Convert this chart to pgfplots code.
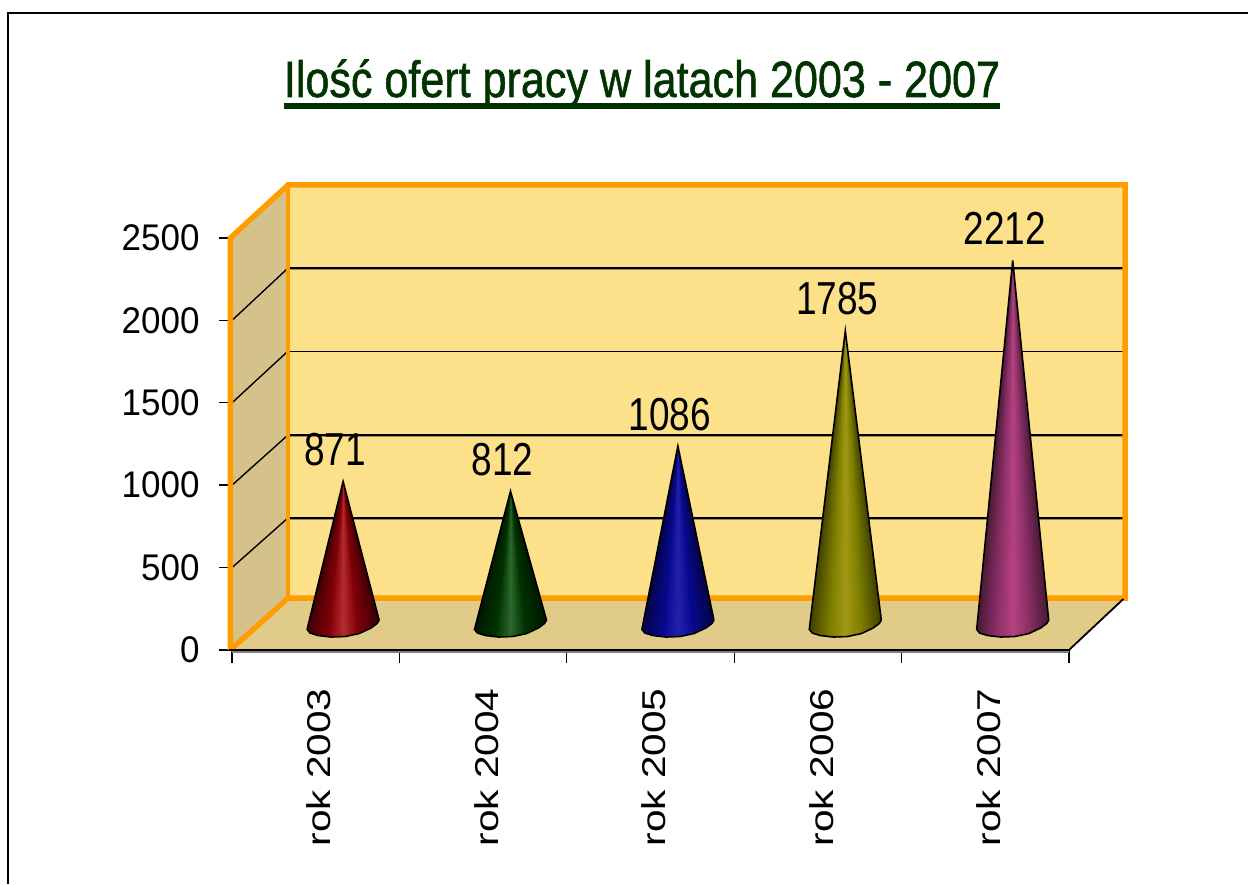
\documentclass[border=0pt]{standalone}
\usepackage{fontspec}
\setmainfont{Liberation Sans}
\newfontfamily\titlefont[FakeBold=1.2]{Liberation Sans}
\usepackage{pgfplots}
\pgfplotsset{compat=1.18}
\usetikzlibrary{shadings}
\definecolor{orangeb}{HTML}{FF9C00}
\definecolor{backw}{HTML}{FDE18A}
\definecolor{sidew}{HTML}{D4C28A}
\definecolor{floorw}{HTML}{E0CB88}
\definecolor{gridsh}{HTML}{9A8A55}
\definecolor{titleg}{HTML}{003300}
% cone shading: colour depends on the angle seen from the apex
% #1 name, #2-4 plateau rgb, #5-7 (bright-plateau) rgb
\newcommand\coneshade[7]{%
\pgfdeclarefunctionalshading{#1}{\pgfpoint{0bp}{0bp}}{\pgfpoint{100bp}{100bp}}{}{%
 exch 50 sub exch 75 exch sub 0.01 add div 1.9 mul abs
 dup 0.4 lt
 { 0.4 exch sub 2.5 mul
   dup #5 mul #2 add exch dup #6 mul #3 add exch #7 mul #4 add }
 { 0.4 sub 0.85 mul 1 exch sub dup 0 lt { pop 0 } if
   dup #2 mul exch dup #3 mul exch #4 mul }
 ifelse
}}
\coneshade{conered}{0.5}{0.0}{0.03}{0.21}{0.17}{0.15}
\coneshade{conegreen}{0.0}{0.2}{0.0}{0.18}{0.21}{0.18}
\coneshade{coneblue}{0.03}{0.03}{0.56}{0.1}{0.1}{0.11}
\coneshade{coneolive}{0.5}{0.5}{0.0}{0.13}{0.1}{0.08}
\coneshade{conemag}{0.56}{0.19}{0.41}{0.15}{0.07}{0.09}
\begin{document}
\begin{tikzpicture}[x=0.5pt,y=0.5pt]
\path[use as bounding box] (0,0) rectangle (1248,884);
% frame of the picture
\draw[black,line width=1pt] (8,0) -- (8,871) -- (1248,871);
% title
\node[font=\titlefont\fontsize{25.5}{28}\selectfont,text=titleg,xscale=0.845,inner sep=0pt,anchor=base] at (642,787) {Ilość ofert pracy w latach 2003 - 2007};
\fill[titleg] (284,775) rectangle (1000,781);
% walls and frame: front plane axis
\begin{axis}[
  at={(116pt,117pt)},anchor=south west,
  scale only axis,width=418.5pt,height=206pt,
  xmin=-0.5,xmax=4.5,ymin=0,ymax=2500,
  clip=false,
  axis x line*=bottom,axis y line*=left,
  axis line style={draw=none,-},
  xtick={0,1,2,3,4},
  xticklabels={\scalebox{1.23}[1]{rok 2003},\scalebox{1.23}[1]{rok 2004},\scalebox{1.23}[1]{rok 2005},\scalebox{1.23}[1]{rok 2006},\scalebox{1.23}[1]{rok 2007}},
  minor xtick={-0.5,0.5,1.5,2.5,3.5,4.5},
  ytick={0,500,1000,1500,2000,2500},
  tick align=outside,
  major tick length=6.5pt,minor tick length=6.5pt,
  x tick style={draw=none},
  minor x tick style={draw=black,line width=0.6pt},
  y tick style={draw=black,line width=0.7pt},
  xticklabel style={font=\fontsize{16.5}{20}\selectfont,rotate=90,anchor=east,xshift=-12.5pt,yshift=-1.7pt,inner sep=0pt},
  yticklabel style={font=\fontsize{17.5}{20}\selectfont,yscale=1.06,inner sep=0pt,xshift=-9.5pt,
    /pgf/number format/1000 sep={},/pgf/number format/assume math mode=true},
]
% back wall, side wall, floor
\addplot[fill=backw,draw=none] coordinates {(-0.165,315) (4.84,315) (4.84,2822) (-0.165,2822)} --cycle;
\addplot[fill=sidew,draw=none] coordinates {(-0.5,0) (-0.165,315) (-0.165,2822) (-0.5,2500)} --cycle;
\addplot[fill=floorw,draw=none] coordinates {(-0.5,0) (-0.165,315) (4.84,315) (4.5,0)} --cycle;
% gridlines on back wall
\addplot[gridsh,line width=1.4pt] coordinates {(-0.165,2312) (4.82,2312)};
\addplot[gridsh,line width=0.9pt] coordinates {(-0.165,1811) (4.82,1811)};
\addplot[gridsh,line width=1.4pt] coordinates {(-0.165,1299) (4.82,1299)};
\addplot[gridsh,line width=1.6pt] coordinates {(-0.165,798) (4.82,798)};
\addplot[black,line width=0.9pt] coordinates {(-0.165,2318) (4.82,2318)};
\addplot[black,line width=0.45pt] coordinates {(-0.165,1814) (4.82,1814)};
\addplot[black,line width=0.9pt] coordinates {(-0.165,1305) (4.82,1305)};
\addplot[black,line width=1pt] coordinates {(-0.165,802) (4.82,802)};
% gridlines on side wall
\addplot[black,line width=0.7pt] coordinates {(-0.5,2000) (-0.165,2318)};
\addplot[black,line width=0.7pt] coordinates {(-0.5,1500) (-0.165,1814)};
\addplot[black,line width=0.7pt] coordinates {(-0.5,1000) (-0.165,1305)};
\addplot[black,line width=0.7pt] coordinates {(-0.5,500) (-0.165,802)};
% orange borders
\addplot[orangeb,line width=2.7pt,line join=miter] coordinates {(-0.51,0) (-0.51,2500) (-0.165,2822) (4.835,2822) (4.835,315) (-0.165,315) (-0.51,0)};
\addplot[orangeb,line width=2.4pt] coordinates {(-0.165,315) (-0.165,2822)};
% floor front edges
\addplot[gray,line width=1pt] coordinates {(-0.5,-10) (4.5,-10)};
\addplot[black,line width=1pt] coordinates {(-0.52,0) (4.5,0)};
\addplot[black,line width=0.9pt] coordinates {(4.5,0) (4.825,310)};
\end{axis}
% cones: on the floor plane
\begin{axis}[
  at={(129.7pt,129.5pt)},anchor=south west,
  scale only axis,width=418.5pt,height=206pt,
  xmin=-0.5,xmax=4.5,ymin=0,ymax=2500,
  clip=false,hide axis,
]
\addplot[draw=black,line width=0.8pt,shading=conered] coordinates {(-0.215,-27) (0,871) (0.215,30) (0.203,9) (0.167,-18) (0.096,-52) (0.012,-70) (-0.072,-73) (-0.149,-64) (-0.197,-49)} --cycle;
\addplot[draw=black,line width=0.8pt,shading=conegreen] coordinates {(0.785,-27) (1,812) (1.215,30) (1.203,9) (1.167,-18) (1.096,-52) (1.012,-70) (0.928,-73) (0.851,-64) (0.803,-49)} --cycle;
\addplot[draw=black,line width=0.8pt,shading=coneblue] coordinates {(1.785,-27) (2,1086) (2.215,30) (2.203,9) (2.167,-18) (2.096,-52) (2.012,-70) (1.928,-73) (1.851,-64) (1.803,-49)} --cycle;
\addplot[draw=black,line width=0.8pt,shading=coneolive] coordinates {(2.785,-27) (3,1785) (3.215,30) (3.203,9) (3.167,-18) (3.096,-52) (3.012,-70) (2.928,-73) (2.851,-64) (2.803,-49)} --cycle;
\addplot[draw=black,line width=0.8pt,shading=conemag] coordinates {(3.785,-27) (4,2212) (4.215,30) (4.203,9) (4.167,-18) (4.096,-52) (4.012,-70) (3.928,-73) (3.851,-64) (3.803,-49)} --cycle;
\addplot[draw=none,point meta=explicit symbolic,nodes near coords,
  nodes near coords align={anchor=south},
  every node near coord/.append style={font=\fontsize{18.5}{20}\selectfont,inner sep=0pt,xshift=-4pt,yshift=7.5pt,yscale=1.25}]
  coordinates {(0,871)[871] (1,812)[812] (2,1086)[1086] (3,1785)[1785] (4,2212)[2212]};
\end{axis}
\end{tikzpicture}
\end{document}
